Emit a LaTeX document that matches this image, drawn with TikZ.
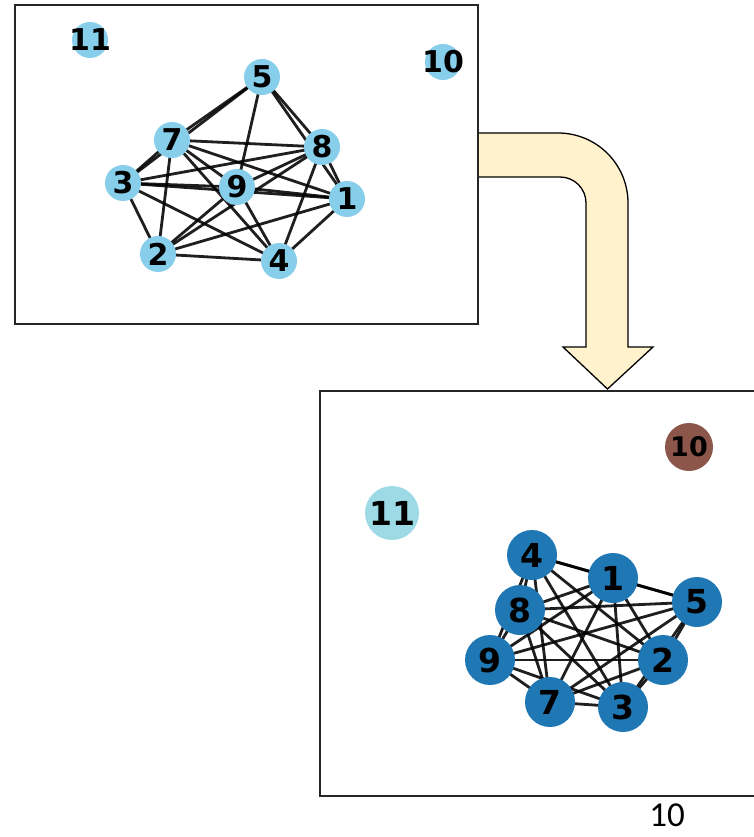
\documentclass[tikz,border=0pt]{standalone}
\usepackage{fontspec}
\newfontfamily\nodefont{DejaVu Sans}
\newfontfamily\pagefont{Carlito}
\pgfdeclarelayer{edges}
\pgfsetlayers{edges,main}
\definecolor{skyblue}{HTML}{87CEEB}
\definecolor{tabblue}{HTML}{1F77B4}
\definecolor{tabbrown}{HTML}{8C564B}
\definecolor{tabcyan}{HTML}{9EDAE5}
\definecolor{arrowfill}{HTML}{FFF2CC}
% labels are boxed with zero width so the disc keeps its own size
\newcommand{\vlabel}[1]{\makebox[0pt]{#1}}
\tikzset{
  frame/.style={draw=black!85, line width=2.2pt},
  vtop/.style={circle, fill=skyblue, inner sep=0pt, minimum size=36pt,
    font=\nodefont\bfseries\fontsize{30}{30}\selectfont},
  vbot/.style={circle, fill=tabblue, inner sep=0pt, minimum size=50pt,
    font=\nodefont\bfseries\fontsize{33}{33}\selectfont},
  link/.style={draw=black, opacity=0.88, line width=2.8pt},
  bentarrow/.style={fill=arrowfill, draw=black, line width=1.3pt, line join=miter}
}
\begin{document}
\begin{tikzpicture}[x=1pt,y=-1pt]
\useasboundingbox (0,0) rectangle (754,837);
\clip (0,0) rectangle (754,837);

% bent arrow from the first panel to the second
\filldraw[bentarrow] (478,133) -- (558,133)
  .. controls (596.7,133) and (628,164.3) .. (628,203)
  -- (628,347) -- (653,347) -- (607.5,389) -- (563,347) -- (586,347)
  -- (586,203) .. controls (586,188.6) and (574.4,177) .. (560,177)
  -- (478,177);

% panels
\draw[frame] (15,5) rectangle (478,324);
\draw[frame] (320,391) rectangle (760,796);

% first graph
\node[vtop] (t11) at (90,40) {\vlabel{11}};
\node[vtop] (t10) at (443,62) {\vlabel{10}};
\node[vtop] (t5) at (262,77) {\vlabel{5}};
\node[vtop] (t7) at (172,140) {\vlabel{7}};
\node[vtop] (t8) at (322,147) {\vlabel{8}};
\node[vtop] (t3) at (123,183) {\vlabel{3}};
\node[vtop] (t9) at (237,187) {\vlabel{9}};
\node[vtop] (t1) at (347,199) {\vlabel{1}};
\node[vtop] (t2) at (158,254) {\vlabel{2}};
\node[vtop] (t4) at (279,261) {\vlabel{4}};
\begin{pgfonlayer}{edges}
\foreach \a/\b in {t5/t7,t5/t3,t5/t9,t5/t8,t5/t1,
  t7/t8,t7/t1,t7/t9,t7/t4,t7/t2,t7/t3,
  t3/t8,t3/t9,t3/t1,t3/t2,t3/t4,
  t9/t8,t9/t1,t9/t2,t9/t4,
  t2/t8,t2/t1,t2/t4,t8/t4,t8/t1,t1/t4}
  \draw[link] (\a.center) -- (\b.center);
\end{pgfonlayer}

% second graph
\node[vbot, fill=tabbrown, minimum size=48pt,
  font=\nodefont\bfseries\fontsize{27}{27}\selectfont] (b10) at (689,447) {\vlabel{10}};
\node[vbot, fill=tabcyan, minimum size=54pt] (b11) at (392,513) {\vlabel{11}};
\node[vbot] (b4) at (532,555) {\vlabel{4}};
\node[vbot] (b1) at (613,578) {\vlabel{1}};
\node[vbot] (b5) at (697,602) {\vlabel{5}};
\node[vbot] (b8) at (520,610) {\vlabel{8}};
\node[vbot] (b9) at (490,660) {\vlabel{9}};
\node[vbot] (b2) at (663,660) {\vlabel{2}};
\node[vbot] (b7) at (550,702) {\vlabel{7}};
\node[vbot] (b3) at (623,707) {\vlabel{3}};
\begin{pgfonlayer}{edges}
\foreach \a/\b in {b4/b1,b4/b5,b4/b8,b4/b9,b4/b2,b4/b7,b4/b3,
  b1/b5,b1/b8,b1/b9,b1/b2,b1/b7,b1/b3,
  b5/b8,b5/b9,b5/b2,b5/b7,b5/b3,
  b8/b9,b8/b2,b8/b7,b8/b3,
  b9/b2,b9/b7,b9/b3,b2/b7,b2/b3,b7/b3}
  \draw[link] (\a.center) -- (\b.center);
\end{pgfonlayer}

% page number
\node[inner sep=0pt, font=\pagefont\fontsize{35}{35}\selectfont] (pagenum) at (667,815) {10};
\end{tikzpicture}
\end{document}
